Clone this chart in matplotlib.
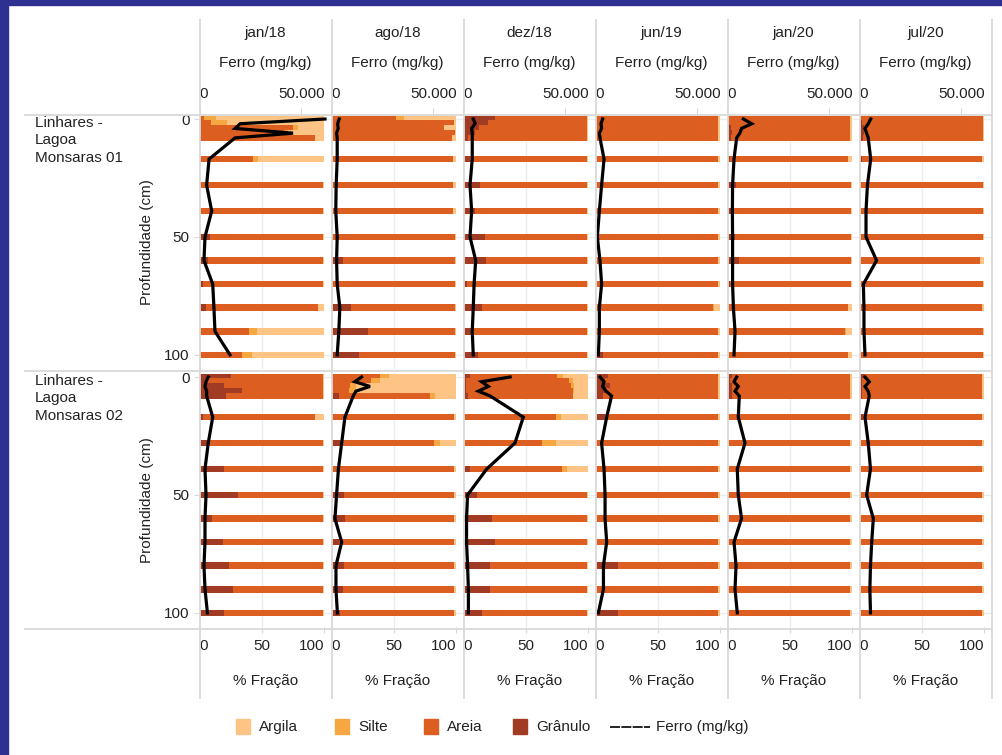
import matplotlib
matplotlib.use('Agg')
import matplotlib.pyplot as plt
from matplotlib.lines import Line2D
from matplotlib.patches import Rectangle

plt.rcParams['font.family'] = ['Liberation Sans', 'DejaVu Sans']
plt.rcParams['font.size'] = 11

periodos = ['jan/18', 'ago/18', 'dez/18', 'jun/19', 'jan/20', 'jul/20']
pontos = ['Linhares -\nLagoa\nMonsaras 01', 'Linhares -\nLagoa\nMonsaras 02']
profundidade = [0, 2, 4, 6, 8, 17, 28, 39, 50, 60, 70, 80, 90, 100]

# ---- Monsaras 01 (one list per period) ----
granulo_01 = [
    [0, 0, 0, 0, 1, 0, 0.5, 0.5, 8.6, 7, 3, 5, 0, 0],
    [0, 0, 0, 1, 0, 0.5, 0, 0.5, 1, 9, 1, 16, 29, 22],
    [25, 20, 12.5, 9, 4, 5, 13, 9, 17, 18, 3, 15, 6, 11.5],
    [0, 0, 0, 0, 0, 1, 1, 1, 1, 0, 0, 0, 1, 6],
    [0, 0, 3, 4, 3, 2, 7, 5, 6, 9, 2, 1, 0, 0],
    [0, 2, 4, 4, 3, 2, 0, 0, 0, 0, 0, 1, 0, 0],
]
areia_01 = [
    [4, 9, 75, 68, 92, 43, 98.5, 98.5, 90.4, 92, 96, 90, 40, 34],
    [52, 98, 90, 98, 97, 97, 97.5, 97, 98, 90, 98, 83, 70, 77],
    [74, 79, 86.5, 90, 95, 94, 86, 90, 82, 81, 96, 84, 93, 87.5],
    [98, 98, 98, 98, 98, 97, 97, 97, 97, 98, 98, 94, 97, 92],
    [98, 98, 95, 94, 95, 95, 92, 94, 93, 90, 97, 96, 94, 97],
    [99, 97, 95, 95, 96, 96, 99, 99, 99, 97, 99, 97, 99, 99],
]
silte_01 = [
    [9, 13, 4, 3, 0, 4, 0, 0, 0, 0, 0, 0, 6, 8],
    [6, 0, 0, 0, 0, 0, 0, 0, 0, 0, 0, 0, 0, 0],
    [0, 0, 0, 0, 0, 0, 0, 0, 0, 0, 0, 0, 0, 0],
    [0, 0, 0, 0, 0, 0, 0, 0, 0, 0, 0, 1, 0, 0],
    [0, 0, 0, 0, 0, 0, 0, 0, 0, 0, 0, 0, 1, 0],
    [0, 0, 0, 0, 0, 0, 0, 0, 0, 0, 0, 0, 0, 0],
]
argila_01 = [
    [87, 78, 21, 29, 7, 53, 1, 1, 1, 1, 1, 5, 54, 58],
    [42, 2, 10, 1, 3, 2.5, 2.5, 2.5, 1, 1, 1, 1, 1, 1],
    [1, 1, 1, 1, 1, 1, 1, 1, 1, 1, 1, 1, 1, 1],
    [2, 2, 2, 2, 2, 2, 2, 2, 2, 2, 2, 5, 2, 2],
    [2, 2, 2, 2, 2, 3, 1, 1, 1, 1, 1, 3, 5, 3],
    [1, 1, 1, 1, 1, 2, 1, 1, 1, 3, 1, 2, 1, 1],
]
ferro_01 = [
    [61700, 20000, 17500, 46000, 17500, 4700, 3500, 6000, 2700, 2200, 6500, 7100, 7600, 15000],
    [3800, 3000, 3300, 2500, 2800, 2800, 2300, 2100, 2800, 2500, 2800, 4100, 3600, 2800],
    [4800, 5700, 4000, 4300, 4300, 4300, 3200, 4000, 3200, 6000, 5200, 4800, 4300, 4800],
    [3500, 2700, 3000, 1900, 2200, 4200, 3000, 1900, 900, 2200, 3000, 1900, 1900, 1400],
    [7800, 11900, 6900, 6100, 4500, 3200, 2500, 2400, 2500, 2500, 2500, 2900, 3700, 3200],
    [5500, 4300, 2700, 3500, 4300, 5500, 3900, 3200, 3200, 8400, 1900, 2200, 2200, 2700],
]

# ---- Monsaras 02 ----
granulo_02 = [
    [25, 5, 20, 34, 21, 3, 6, 20, 31, 10, 19, 24, 27, 20],
    [0, 0, 0, 0, 6, 0, 7, 1, 10, 11, 6, 10, 9, 7],
    [5, 2, 2, 2, 4, 0, 0, 5, 11, 23, 25, 21, 21, 15],
    [10, 8, 12, 8, 6, 8, 0, 0, 1, 0, 0, 18, 0, 18],
    [4, 2, 4, 4, 4, 0, 0, 0, 0, 0, 0, 1, 0, 0],
    [4, 2, 2, 2, 2, 3, 0, 0, 0, 0, 0, 0, 0, 0],
]
areia_02 = [
    [74, 94, 79, 65, 78, 90, 93, 79, 68, 89, 80, 75, 72, 79],
    [39, 32, 15, 14, 73, 98, 75, 97, 88, 87, 92, 88, 89, 91],
    [70, 83, 84, 86, 84, 74, 63, 74, 88, 76, 74, 78, 78, 84],
    [88, 90, 86, 90, 92, 90, 98, 98, 97, 98, 98, 80, 98, 80],
    [94, 96, 94, 94, 94, 98, 98, 98, 98, 98, 98, 97, 98, 98],
    [94, 96, 96, 96, 96, 95, 98, 98, 98, 98, 98, 98, 98, 98],
]
silte_02 = [
    [0, 0, 0, 0, 0, 0, 0, 0, 0, 0, 0, 0, 0, 0],
    [7, 7, 5, 6, 4, 0, 5, 0, 0, 0, 0, 0, 0, 0],
    [5, 3, 3, 1, 0, 4, 11, 4, 0, 0, 0, 0, 0, 0],
    [0, 0, 0, 0, 0, 0, 0, 0, 0, 0, 0, 0, 0, 0],
    [0, 0, 0, 0, 0, 0, 0, 0, 0, 0, 0, 0, 0, 0],
    [0, 0, 0, 0, 0, 0, 0, 0, 0, 0, 0, 0, 0, 0],
]
argila_02 = [
    [1, 1, 1, 1, 1, 7, 1, 1, 1, 1, 1, 1, 1, 1],
    [54, 61, 80, 80, 17, 2, 13, 2, 2, 2, 2, 2, 2, 2],
    [20, 12, 11, 11, 12, 22, 26, 17, 1, 1, 1, 1, 1, 1],
    [2, 2, 2, 2, 2, 2, 2, 2, 2, 2, 2, 2, 2, 2],
    [2, 2, 2, 2, 2, 2, 2, 2, 2, 2, 2, 2, 2, 2],
    [2, 2, 2, 2, 2, 2, 2, 2, 2, 2, 2, 2, 2, 2],
]
ferro_02 = [
    [4300, 3200, 2700, 3500, 3500, 6500, 4300, 2700, 3200, 2700, 2700, 2200, 2700, 3900],
    [14800, 11500, 18900, 12000, 10700, 6600, 5000, 3400, 2500, 1700, 5000, 2200, 2200, 2900],
    [22900, 8900, 12200, 7300, 13000, 29400, 25300, 11400, 2000, 1500, 1500, 2000, 2400, 2400],
    [2200, 4200, 3500, 5200, 7900, 5500, 3000, 4200, 4700, 4700, 5500, 3900, 3900, 1400],
    [4500, 3200, 5300, 3700, 5800, 5300, 8600, 4800, 5300, 6900, 3200, 4200, 3700, 4800],
    [2700, 4800, 2700, 4300, 4800, 2700, 4300, 5400, 3500, 6800, 6000, 5400, 5100, 5400],
]

fracoes = ['Argila', 'Silte', 'Areia', 'Grânulo']
cores = {'Argila': '#fdc486', 'Silte': '#f5a742', 'Areia': '#dc5e21', 'Grânulo': '#a13b23'}
txt = '#222222'
cinza = '#d9d9d9'
fs = 11

W, H = 1002, 755
def fx(px):
    return px / W
def fy(py):
    return 1 - py / H

fig = plt.figure(figsize=(W / 100, H / 100), dpi=100)

x0, pw = 199.5, 132
linhas = [(115, 369), (373, 627)]
dados = [(granulo_01, areia_01, silte_01, argila_01, ferro_01),
         (granulo_02, areia_02, silte_02, argila_02, ferro_02)]

for r in range(2):
    top, bot = linhas[r]
    gr, ar, si, arg, fe = dados[r]
    for c in range(6):
        ax = fig.add_axes([fx(x0 + pw * c), fy(bot), pw / W, (bot - top) / H])
        ax.set_xlim(0, 106)
        ax.set_ylim(106, -1.7)
        for s in ax.spines.values():
            s.set_visible(False)
        ax.axvline(50, color='#ececec', lw=1, zorder=0)
        for d in (0, 50, 100):
            ax.axhline(d, color='#ececec', lw=1, zorder=0)
        for i, d in enumerate(profundidade):
            w = [gr[c][i], ar[c][i], si[c][i], arg[c][i]]
            left = [0, w[0], w[0] + w[1], w[0] + w[1] + w[2]]
            ax.barh([d] * 4, w, left=left, height=2.8,
                    color=[cores['Grânulo'], cores['Areia'], cores['Silte'], cores['Argila']],
                    zorder=2 + i * 0.01)
        ax.set_yticks([0, 50, 100])
        if c == 0:
            ax.set_yticklabels(['0', '50', '100'])
            ax.tick_params(axis='y', length=4, color=cinza, labelcolor=txt, pad=3, labelsize=fs)
        else:
            ax.tick_params(axis='y', length=0, labelleft=False)
        if r == 1:
            ax.set_xticks([0, 50, 100])
            ax.set_xticklabels(['0', '50', '100'])
            ax.tick_params(axis='x', length=4, color=cinza, labelcolor=txt, pad=5, labelsize=fs)
            lbs = ax.get_xticklabels()
            lbs[0].set_ha('left')
            lbs[2].set_ha('right')
        else:
            ax.set_xticks([])

        ax2 = ax.twiny()
        ax2.set_xlim(0, 64900)
        for s in ax2.spines.values():
            s.set_visible(False)
        ax2.plot(fe[c], profundidade, color='black', lw=2.3, zorder=10,
                 solid_joinstyle='miter')
        if r == 0:
            ax2.set_xticks([0, 50000])
            ax2.set_xticklabels(['0', '50.000'])
            ax2.tick_params(axis='x', length=5, color=cinza, labelcolor=txt, pad=5, labelsize=fs)
            ax2.get_xticklabels()[0].set_ha('left')
        else:
            ax2.set_xticks([])

# column headers and footers
for c, p in enumerate(periodos):
    xc = fx(x0 + pw * c + pw / 2)
    fig.text(xc, fy(33), p, ha='center', va='center', color=txt, fontsize=fs)
    fig.text(xc, fy(63), 'Ferro (mg/kg)', ha='center', va='center', color=txt, fontsize=fs)
    fig.text(xc, fy(681), '% Fração', ha='center', va='center', color=txt, fontsize=fs)

# row headers
for r, nome in enumerate(pontos):
    top, bot = linhas[r]
    fig.text(fx(35), fy(top + 1), nome, ha='left', va='top', color=txt, fontsize=fs,
             linespacing=1.3)
    fig.text(fx(147), fy((top + bot) / 2), 'Profundidade (cm)', rotation=90,
             ha='center', va='center', color=txt, fontsize=fs)

# grid separators
for k in range(7):
    xx = fx(x0 + pw * k)
    fig.add_artist(Line2D([xx, xx], [fy(20), fy(698)], color=cinza, lw=1.3))
for yy in (115, 371, 629):
    fig.add_artist(Line2D([fx(25), fx(x0 + pw * 6)], [fy(yy), fy(yy)], color=cinza, lw=1.3))

# legend
leg_x = [236, 335, 424, 513]
for xx, nome in zip(leg_x, fracoes):
    fig.add_artist(Rectangle((fx(xx), fy(734)), 14 / W, 15 / H, color=cores[nome],
                             transform=fig.transFigure))
    fig.text(fx(xx + 23), fy(727), nome, ha='left', va='center', color=txt, fontsize=fs)
fig.add_artist(Line2D([fx(610), fx(650)], [fy(727), fy(727)], color='black', lw=1.2,
                      linestyle=(0, (6, 0.8))))
fig.text(fx(656), fy(727), 'Ferro (mg/kg)', ha='left', va='center', color=txt, fontsize=fs)

# blue frame
azul = '#2e3192'
fig.add_artist(Rectangle((0, 0), fx(8), 1, color=azul, transform=fig.transFigure))
fig.add_artist(Rectangle((0, fy(5)), 1, 5 / H, color=azul, transform=fig.transFigure))

fig.savefig('out.png', dpi=100)
